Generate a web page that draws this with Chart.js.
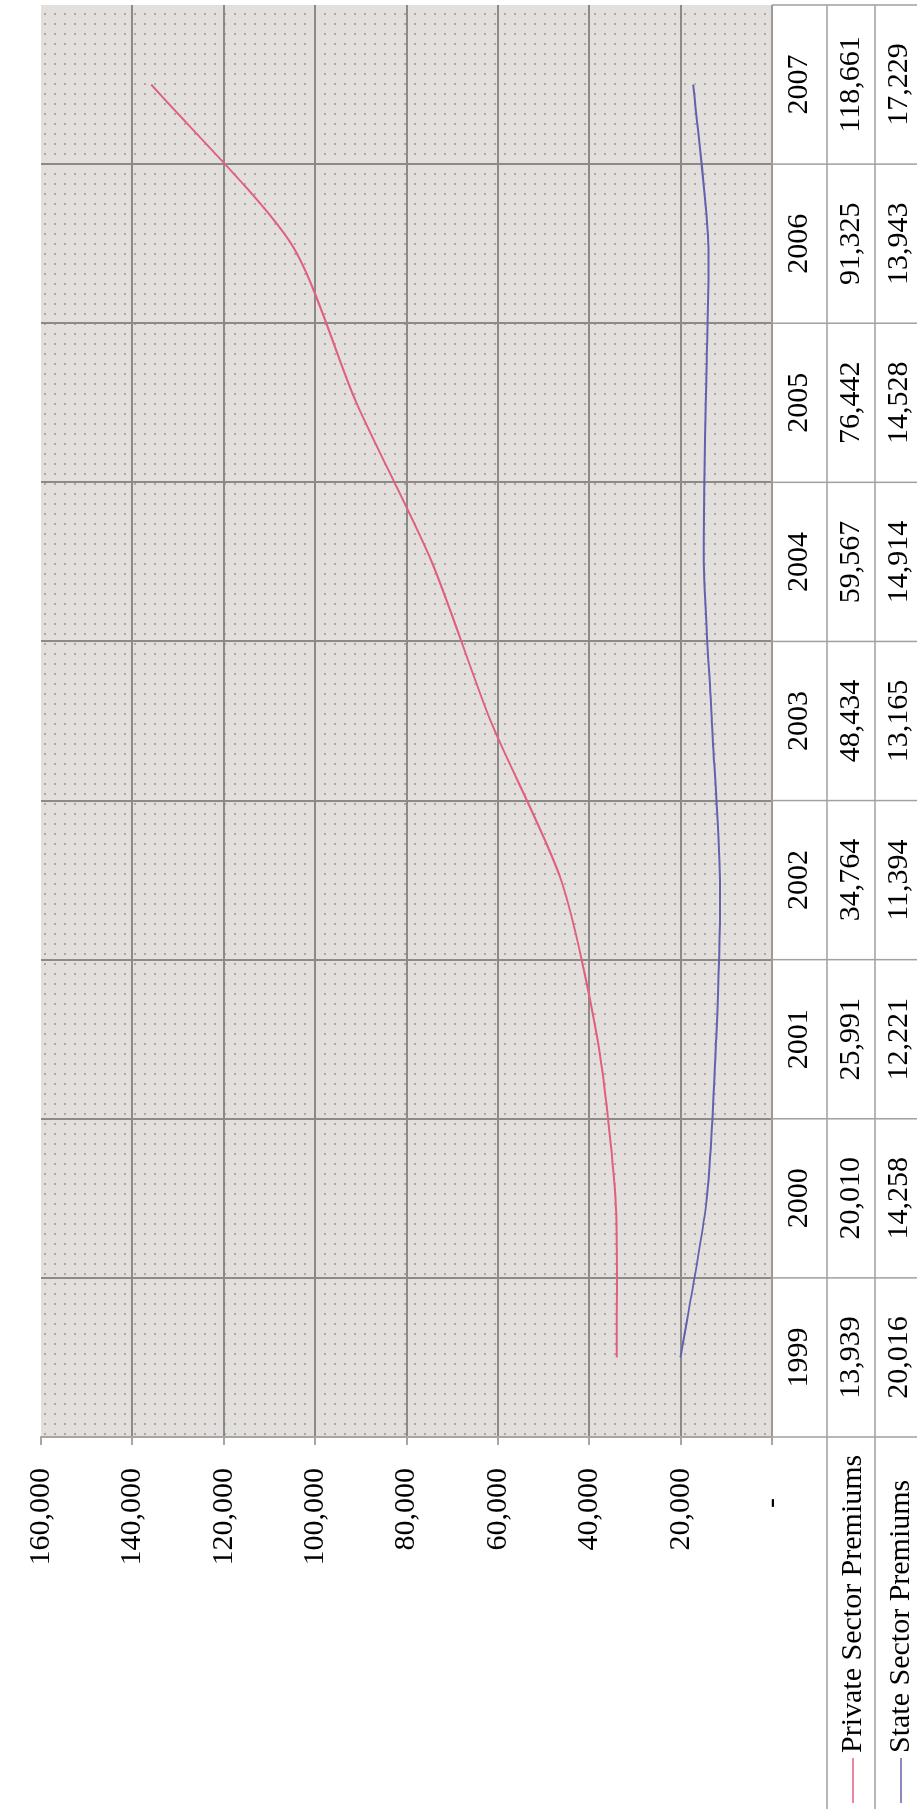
<!DOCTYPE html>
<html>
<head>
<meta charset="utf-8">
<script src="https://cdn.jsdelivr.net/npm/chart.js@4/dist/chart.umd.min.js"></script>
<style>
  html, body { margin: 0; padding: 0; background: #fff; overflow: hidden; }
  body { width: 917px; height: 1809px; position: relative; }
  /* chart is drawn landscape, then turned a quarter left like the scan */
  #wrap {
    position: absolute; left: 0; top: 0;
    width: 1809px; height: 917px;
    transform-origin: 0 0;
    transform: translate(0, 1809px) rotate(-90deg);
  }
</style>
</head>
<body>
<div id="wrap"><canvas id="chart" width="1809" height="917"></canvas></div>
<script>
const years = ['1999', '2000', '2001', '2002', '2003', '2004', '2005', '2006', '2007'];
const privatePremiums = [13939, 20010, 25991, 34764, 48434, 59567, 76442, 91325, 118661];
const statePremiums = [20016, 14258, 12221, 11394, 13165, 14914, 14528, 13943, 17229];
const seriesNames = ['Private Sector Premiums', 'State Sector Premiums'];
const valueTicks = [0, 20000, 40000, 60000, 80000, 100000, 120000, 140000, 160000];

const privateColor = '#e0607e';
const stateColor = '#6262ae';
const gridColor = '#8c8a88';
const tableLine = '#a3a09d';
const font = "'Liberation Serif', 'Times New Roman', serif";

function fmt(v) {
  return v === 0 ? '-\u2007\u2007' : v.toLocaleString('en-US');
}

// dotted grey fill of the plot area
function makePattern(ctx) {
  const t = document.createElement('canvas');
  t.width = 10; t.height = 10;
  const c = t.getContext('2d');
  c.fillStyle = '#e3dfdc';
  c.fillRect(0, 0, 10, 10);
  c.fillStyle = '#aba7a4';
  c.fillRect(4, 4, 2, 2);
  return ctx.createPattern(t, 'repeat');
}

const plotBackground = {
  id: 'plotBackground',
  beforeDraw(chart) {
    const {ctx, chartArea: a} = chart;
    ctx.save();
    ctx.fillStyle = makePattern(ctx);
    ctx.fillRect(a.left, a.top, a.right - a.left, a.bottom - a.top);
    ctx.restore();
  }
};

// Excel style data table under the plot
const dataTable = {
  id: 'dataTable',
  afterDraw(chart) {
    const {ctx, chartArea: a} = chart;
    const x = chart.scales.x;
    const band = x.getPixelForValue(1) - x.getPixelForValue(0);
    const rows = [a.bottom, a.bottom + 55, a.bottom + 103, a.bottom + 151];
    ctx.save();
    ctx.strokeStyle = tableLine;
    ctx.lineWidth = 1.5;
    ctx.beginPath();
    ctx.moveTo(a.left, rows[0]); ctx.lineTo(a.right, rows[0]);
    ctx.moveTo(0, rows[1]); ctx.lineTo(a.right, rows[1]);
    ctx.moveTo(0, rows[2]); ctx.lineTo(a.right, rows[2]);
    for (let i = 0; i <= years.length; i++) {
      const px = x.getPixelForValue(0) - band / 2 + i * band;
      ctx.moveTo(px, rows[0]); ctx.lineTo(px, rows[3]);
    }
    ctx.stroke();

    ctx.fillStyle = '#000';
    ctx.font = '30px ' + font;
    ctx.textAlign = 'center';
    ctx.textBaseline = 'middle';
    years.forEach((y, i) => {
      const px = x.getPixelForValue(i);
      ctx.fillText(y, px, (rows[0] + rows[1]) / 2);
      ctx.fillText(fmt(privatePremiums[i]), px, (rows[1] + rows[2]) / 2);
      ctx.fillText(fmt(statePremiums[i]), px, (rows[2] + rows[3]) / 2);
    });

    // legend keys + series names
    ctx.textAlign = 'left';
    [privateColor, stateColor].forEach((col, k) => {
      const cy = (rows[k + 1] + rows[k + 2]) / 2 + 2;
      ctx.strokeStyle = col;
      ctx.lineWidth = 1.5;
      ctx.beginPath();
      ctx.moveTo(6, cy); ctx.lineTo(51, cy);
      ctx.stroke();
      ctx.fillText(seriesNames[k], 56, cy);
    });
    ctx.restore();
  }
};

new Chart(document.getElementById('chart'), {
  type: 'line',
  data: {
    labels: years,
    datasets: [
      {
        label: seriesNames[1],
        data: statePremiums,
        borderColor: stateColor,
        borderWidth: 2,
        pointRadius: 0,
        tension: 0.25,
        fill: false
      },
      {
        label: seriesNames[0],
        data: privatePremiums,
        borderColor: privateColor,
        borderWidth: 2,
        pointRadius: 0,
        tension: 0.25,
        fill: false
      }
    ]
  },
  options: {
    responsive: false,
    animation: false,
    devicePixelRatio: 1,
    layout: { padding: { top: 27, right: 5, left: 0, bottom: 0 } },
    plugins: { legend: { display: false }, tooltip: { enabled: false } },
    scales: {
      x: {
        type: 'category',
        offset: true,
        grid: {
          offset: true,
          drawTicks: false,
          lineWidth: 2,
          color: c => (c.index === undefined || c.index === 0) ? 'rgba(0,0,0,0)' : gridColor
        },
        border: { display: false },
        ticks: { display: false },
        afterFit(s) { s.height = 145; }
      },
      y: {
        stacked: true,
        min: 0,
        max: 160000,
        afterBuildTicks(s) { s.ticks = valueTicks.map(v => ({value: v})); },
        ticks: {
          padding: 23,
          color: '#000',
          font: { family: font, size: 30 },
          callback: v => fmt(v)
        },
        grid: {
          lineWidth: 2,
          tickLength: 8,
          tickColor: '#a8a5a2',
          color: c => (c.tick && c.tick.value === 160000) ? 'rgba(0,0,0,0)' : gridColor
        },
        border: { color: '#a8a5a2', width: 2 },
        afterFit(s) { s.width = 372; }
      }
    }
  },
  plugins: [plotBackground, dataTable]
});
</script>
</body>
</html>
